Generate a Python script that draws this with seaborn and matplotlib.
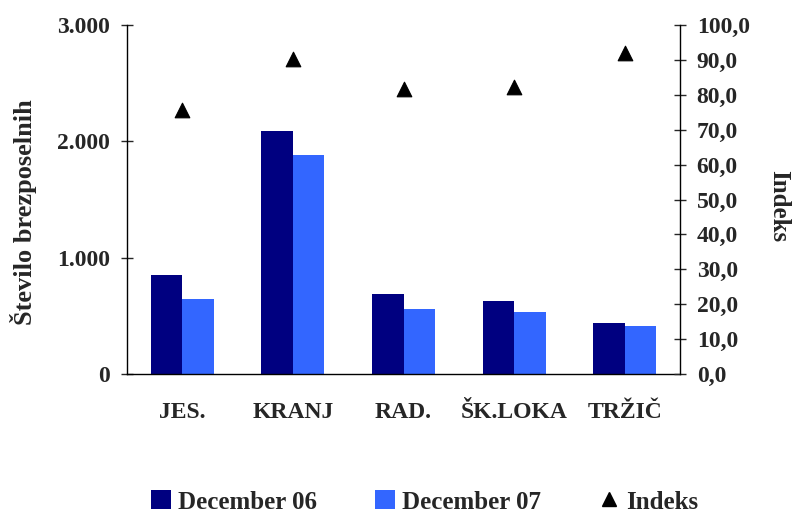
import matplotlib
matplotlib.use("Agg")
import matplotlib.pyplot as plt
import seaborn as sns
import pandas as pd
from matplotlib.ticker import FuncFormatter, FixedLocator
from matplotlib.patches import Patch
from matplotlib.lines import Line2D

# podatki
obmocja = ["JES.", "KRANJ", "RAD.", "ŠK.LOKA", "TRŽIČ"]
dec_06 = [851, 2089, 688, 628, 438]
dec_07 = [645, 1883, 559, 533, 413]
indeks = [75.6, 90.4, 81.6, 82.3, 92.0]

barva_06 = "#000080"
barva_07 = "#3366FF"

sns.set_style("white")
plt.rcParams['font.family'] = ['Liberation Serif', 'DejaVu Serif']
plt.rcParams['font.weight'] = 'bold'

df = pd.DataFrame({
    "obmocje": obmocja * 2,
    "stevilo": dec_06 + dec_07,
    "mesec": ["December 06"] * 5 + ["December 07"] * 5,
})
df_idx = pd.DataFrame({"obmocje": obmocja, "indeks": indeks})

fig = plt.figure(figsize=(7.94, 5.13), dpi=100)
ax = fig.add_axes([127 / 794, 1 - 374 / 513, 553 / 794, 349 / 513])

sns.barplot(data=df, x="obmocje", y="stevilo", hue="mesec", order=obmocja,
            palette=[barva_06, barva_07], width=0.57, saturation=1,
            linewidth=0, legend=False, ax=ax)

ax2 = ax.twinx()
sns.scatterplot(data=df_idx, x="obmocje", y="indeks", marker="^", s=110,
                color="black", edgecolor="black", legend=False, ax=ax2)

ax.set_xlim(-0.5, 4.5)
ax.set_ylim(0, 3000)
ax2.set_ylim(0, 100)

ax.set_yticks([0, 1000, 2000, 3000])
ax.yaxis.set_major_formatter(FuncFormatter(lambda v, p: f"{int(v):,}".replace(",", ".")))
ax2.set_yticks(range(0, 101, 10))
ax2.yaxis.set_major_formatter(FuncFormatter(lambda v, p: f"{v:.1f}".replace(".", ",")))

ax.set_xticks(range(len(obmocja)))
ax.set_xticklabels(obmocja, fontsize=17, fontweight="bold")
ax.xaxis.set_minor_locator(FixedLocator([0.5, 1.5, 2.5, 3.5, 4.5]))
ax.tick_params(axis="x", which="major", length=0, pad=20)
ax.tick_params(axis="x", which="minor", length=8, direction="inout", width=1)
ax.tick_params(axis="y", length=8, direction="inout", width=1, labelsize=17, pad=8)
ax2.tick_params(axis="y", length=8, direction="inout", width=1, labelsize=17, pad=8)
for lab in ax.get_yticklabels() + ax2.get_yticklabels():
    lab.set_fontweight("bold")

for a in (ax, ax2):
    a.spines["top"].set_visible(False)
    for s in ("left", "right", "bottom"):
        a.spines[s].set_color("black")
        a.spines[s].set_linewidth(1)
ax.spines["right"].set_visible(False)
ax2.spines["left"].set_visible(False)
ax2.spines["bottom"].set_visible(False)

ax.set_xlabel("")
ax.set_ylabel("Število brezposelnih", fontsize=19, fontweight="bold")
ax.yaxis.set_label_coords(-0.163, 0.464)
ax2.set_ylabel("Indeks", fontsize=18, fontweight="bold", rotation=-90)
ax2.yaxis.set_label_coords(1.2, 0.48)

handles = [
    Patch(facecolor=barva_06, edgecolor="none"),
    Patch(facecolor=barva_07, edgecolor="none"),
    Line2D([], [], marker="^", color="black", linestyle="none", markersize=10),
]
fig.legend(handles, ["December 06", "December 07", "Indeks"], loc="lower center",
           bbox_to_anchor=(0.535, -0.045), ncol=3, frameon=False,
           prop={"size": 18, "weight": "bold"}, handlelength=0.8,
           handleheight=0.8, handletextpad=0.3, columnspacing=2.3)

fig.savefig("out.png", dpi=100, facecolor="white")
